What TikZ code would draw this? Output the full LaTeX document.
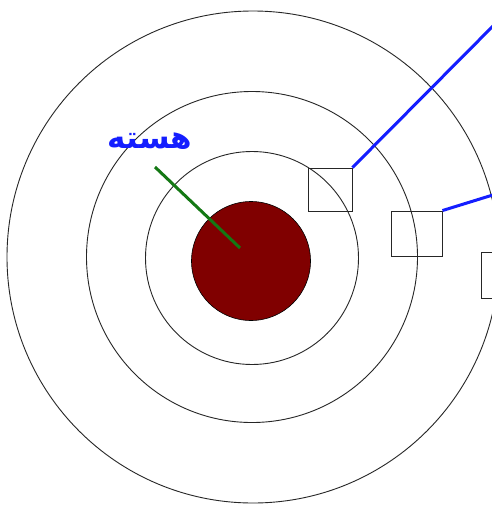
\documentclass[tikz,border=0pt]{standalone}
\usepackage{fontspec}
\newfontfamily\arabicfont[Script=Arabic]{DejaVu Sans}
\TeXXeTstate=1
\begin{document}
\begin{tikzpicture}[x=1pt,y=-1pt,
  ring/.style={circle,draw=black!85,line width=0.9pt,inner sep=0pt},
  shell/.style={draw=black!85,line width=0.9pt,inner sep=0pt,rectangle},
  link/.style={draw={rgb,255:red,20;green,30;blue,255},line width=3pt},
  pointer/.style={draw={rgb,255:red,20;green,120;blue,20},line width=3pt}]
\useasboundingbox (0,0) rectangle (491,507);
\fill[white] (0,0) rectangle (491,507);
\node[ring,minimum size=492pt] (r3) at (253,257) {};
\node[ring,minimum size=331pt] (r2) at (252,257) {};
\node[ring,minimum size=213pt] (r1) at (252,258) {};
\node[circle,draw=black,line width=0.6pt,fill={rgb,255:red,128;green,0;blue,0},minimum size=119pt,inner sep=0pt] (nuc) at (251,261) {};
\node[shell,minimum width=44pt,minimum height=43pt] (b1) at (330,189.5) {};
\node[shell,minimum width=51pt,minimum height=45pt] (b2) at (416.5,233.5) {};
\node[shell,minimum width=30pt,minimum height=46pt,anchor=north west] (b3) at (480.5,251.5) {};
\coordinate (e1) at (496,23);
\coordinate (e2) at (496,194);
\coordinate (p0) at (155,167);
\coordinate (p1) at (240,248);
\draw[link] (b1.north east) -- (e1);
\draw[link] (b2.north east) -- (e2);
\draw[pointer] (p0) -- (p1);
\node[text={rgb,255:red,20;green,30;blue,255},font=\arabicfont\bfseries\fontsize{31}{36}\selectfont,inner sep=0pt] (lbl) at (150,141) {\beginR هسته\endR};
\end{tikzpicture}
\end{document}
